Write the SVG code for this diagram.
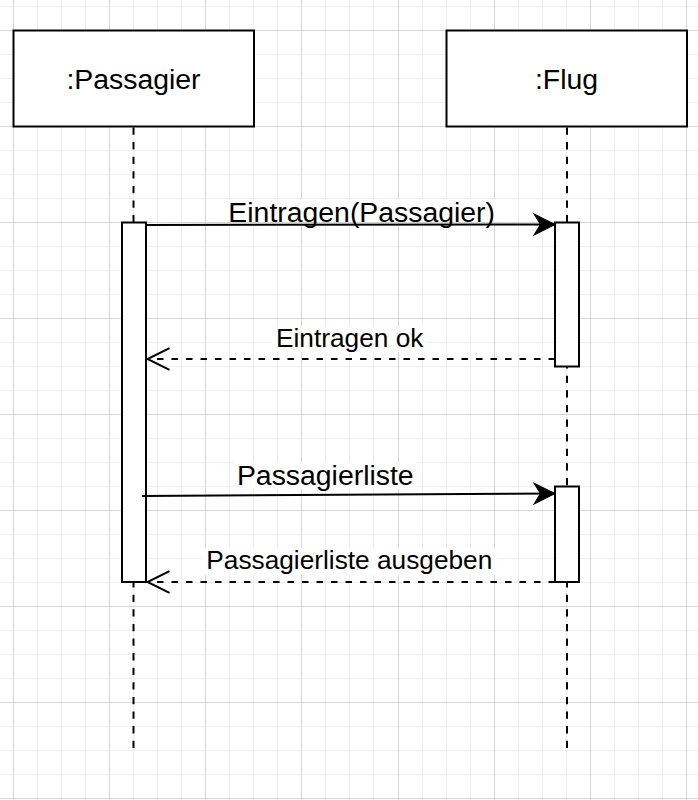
<svg xmlns="http://www.w3.org/2000/svg" width="698" height="800" viewBox="0 0 698 800">
  <style>
    .minor { stroke: #eeeeee; stroke-width: 1; fill: none; }
    .major { stroke: #d4d4d4; stroke-width: 1; fill: none; }
    .box { fill: #ffffff; stroke: #000000; stroke-width: 2; }
    .lifeline { stroke: #000000; stroke-width: 2; stroke-dasharray: 7.3 7.3; fill: none; }
    .msg { stroke: #000000; stroke-width: 2; fill: none; }
    .ret { stroke: #000000; stroke-width: 2; fill: none; stroke-dasharray: 6.5 8; }
    .lblbg { fill: #ffffff; stroke: none; }
    .big { font-family: "Liberation Sans", Arial, sans-serif; font-size: 28.4px; fill: #000000; text-anchor: middle; }
    .small { font-family: "Liberation Sans", Arial, sans-serif; font-size: 26.25px; fill: #000000; text-anchor: middle; }
  </style>
  <defs>
    <marker id="filled" markerUnits="userSpaceOnUse" markerWidth="22" markerHeight="22" refX="21" refY="10.5" orient="auto" overflow="visible">
      <path d="M0,0 L21,10.5 L0,21 L6.5,10.5 Z" fill="#000000" stroke="#000000" stroke-width="1" stroke-linejoin="miter"/>
    </marker>
    <marker id="open" markerUnits="userSpaceOnUse" markerWidth="24" markerHeight="24" refX="22" refY="10.8" orient="auto" overflow="visible">
      <path d="M0,0 L22,10.8 L0,21.6" fill="none" stroke="#000000" stroke-width="2"/>
    </marker>
  </defs>

  <rect x="0" y="0" width="698" height="800" fill="#ffffff"/>

  <g id="grid">
    <path class="minor" d="M37.5,0V800 M61.5,0V800 M85.5,0V800 M133.5,0V800 M157.5,0V800 M181.5,0V800 M229.5,0V800 M253.5,0V800 M277.5,0V800 M325.5,0V800 M349.5,0V800 M373.5,0V800 M422.5,0V800 M446.5,0V800 M470.5,0V800 M518.5,0V800 M542.5,0V800 M566.5,0V800 M614.5,0V800 M638.5,0V800 M662.5,0V800
      M0,6.5H698 M0,54.5H698 M0,78.5H698 M0,102.5H698 M0,150.5H698 M0,174.5H698 M0,198.5H698 M0,246.5H698 M0,270.5H698 M0,294.5H698 M0,342.5H698 M0,366.5H698 M0,390.5H698 M0,438.5H698 M0,462.5H698 M0,486.5H698 M0,534.5H698 M0,558.5H698 M0,582.5H698 M0,630.5H698 M0,654.5H698 M0,678.5H698 M0,726.5H698 M0,750.5H698 M0,774.5H698"/>
    <path class="major" d="M13.5,0V800 M109.5,0V800 M205.5,0V800 M301.5,0V800 M398.5,0V800 M494.5,0V800 M590.5,0V800 M686.5,0V800
      M0,30.5H698 M0,126.5H698 M0,222.5H698 M0,318.5H698 M0,414.5H698 M0,510.5H698 M0,606.5H698 M0,702.5H698 M0,798.5H698"/>
  </g>

  <g id="node-passagier">
    <rect class="box" x="13.5" y="30.5" width="240.5" height="96"/>
    <text class="big" x="133.5" y="89">:Passagier</text>
  </g>

  <g id="node-flug">
    <rect class="box" x="446.5" y="30.5" width="240.5" height="96"/>
    <text class="big" x="566.5" y="89">:Flug</text>
  </g>

  <g id="lifelines">
    <line class="lifeline" x1="133.5" y1="127.5" x2="133.5" y2="751"/>
    <line class="lifeline" x1="567" y1="127.5" x2="567" y2="751"/>
  </g>

  <g id="activation-passagier">
    <rect class="box" x="122" y="222.5" width="24" height="359.5"/>
  </g>
  <g id="activation-flug-1">
    <rect class="box" x="555" y="222.5" width="24" height="144"/>
  </g>
  <g id="activation-flug-2">
    <rect class="box" x="555" y="486.5" width="24" height="95.5"/>
  </g>

  <g id="connectors">
    <rect class="lblbg" x="227" y="199" width="271" height="23"/>
    <rect class="lblbg" x="272" y="326" width="155" height="26"/>
    <rect class="lblbg" x="233" y="462" width="185" height="27"/>
    <rect class="lblbg" x="202" y="548" width="295" height="27"/>

    <line class="msg" x1="146" y1="225" x2="555" y2="224.5" marker-end="url(#filled)"/>
    <line class="ret" x1="555" y1="359" x2="147.5" y2="359" marker-end="url(#open)"/>
    <line class="msg" x1="142" y1="496" x2="555" y2="493.5" marker-end="url(#filled)"/>
    <line class="ret" x1="555" y1="582" x2="147.5" y2="582" marker-end="url(#open)"/>

    <text class="big" x="361.7" y="221.7">Eintragen(Passagier)</text>
    <text class="small" x="349.7" y="346.7">Eintragen ok</text>
    <text class="big" x="325.3" y="485">Passagierliste</text>
    <text class="small" x="349.3" y="569.3">Passagierliste ausgeben</text>
  </g>
</svg>
